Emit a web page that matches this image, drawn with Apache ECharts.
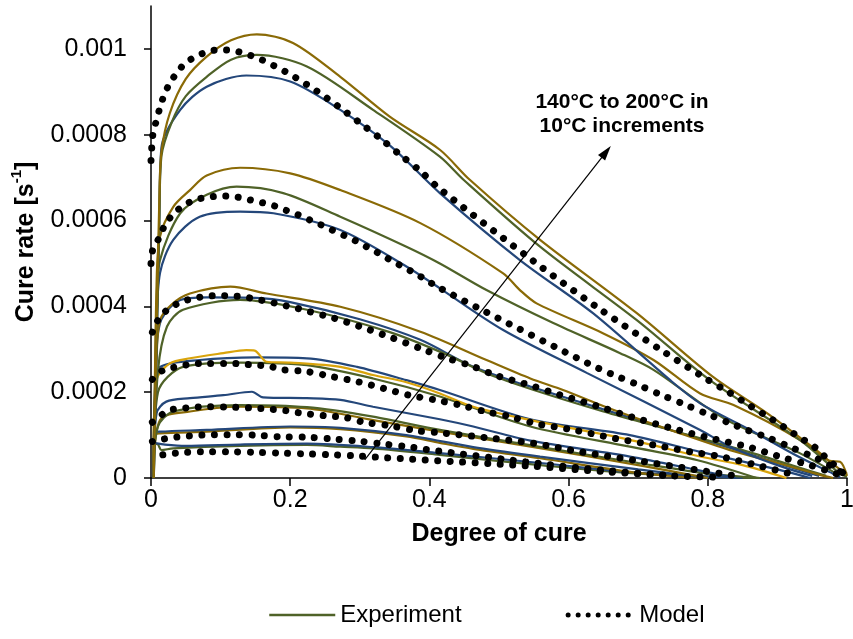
<!DOCTYPE html>
<html>
<head>
<meta charset="utf-8">
<title>Cure rate vs degree of cure</title>
<script src="https://cdn.jsdelivr.net/npm/echarts@6/dist/echarts.min.js"></script>
<style>
  html, body { margin: 0; padding: 0; background: #fff; }
  #chart { width: 853px; height: 639px; }
</style>
</head>
<body>
<div id="chart"></div>
<script>
// Cure rate values are stored in units of 1e-4 s^-1: [degree of cure, rate]
const RATE_UNIT = 1e-4;

// Axis ticks
const xTicks = [0, 0.2, 0.4, 0.6, 0.8, 1];
const yTicks = [0, 0.0002, 0.0004, 0.0006, 0.0008, 0.001];

// 200 °C
const exp200Gold = [[0.004,0],[0.008,3.5],[0.012,6.5],[0.015,7.6],[0.027,8.5],[0.05,9.3],[0.08,9.82],[0.115,10.2],[0.152,10.34],[0.204,10.14],[0.272,9.35],[0.343,8.42],[0.415,7.65],[0.458,6.95],[0.559,5.55],[0.698,3.84],[0.807,2.36],[0.885,1.51],[0.96,0.6],[0.975,0.4],[0.99,0.38],[1.0,0.05]];
const exp200Green = [[0.004,0],[0.008,3],[0.012,6],[0.015,7.5],[0.03,8.3],[0.05,8.9],[0.08,9.35],[0.115,9.75],[0.152,9.86],[0.224,9.59],[0.319,8.58],[0.415,7.49],[0.449,6.95],[0.559,5.39],[0.698,3.68],[0.803,2.28],[0.932,0.89],[0.99,0.1],[1.0,0.03]];
const exp200Blue = [[0.004,0],[0.008,3],[0.012,6],[0.015,7.7],[0.042,8.58],[0.08,9.12],[0.137,9.38],[0.2,9.24],[0.272,8.58],[0.343,7.75],[0.415,6.64],[0.53,5.08],[0.635,3.84],[0.746,2.28],[0.789,1.74],[0.861,1.12],[0.93,0.5],[0.98,0.1],[0.99,0.02]];
const model200 = [[0,7.4],[0.003,8.05],[0.008,8.34],[0.013,8.64],[0.019,8.93],[0.027,9.2],[0.038,9.46],[0.05,9.68],[0.067,9.84],[0.084,9.95],[0.102,9.98],[0.121,9.95],[0.139,9.87],[0.157,9.76],[0.174,9.63],[0.191,9.49],[0.207,9.34],[0.238,9.02],[0.269,8.66],[0.299,8.29],[0.329,7.92],[0.358,7.53],[0.388,7.14],[0.414,6.75],[0.549,5.06],[0.64,3.99],[0.734,2.97],[0.797,2.32],[0.829,2.01],[0.861,1.68],[0.892,1.37],[0.924,1.03],[0.956,0.69],[0.973,0.42],[0.985,0.26],[1.0,0.03]];

// 190 °C
const exp190Gold = [[0.004,0],[0.008,4.5],[0.013,5.63],[0.032,6.32],[0.056,6.71],[0.08,7.05],[0.128,7.23],[0.2,7.1],[0.272,6.71],[0.387,5.94],[0.506,4.77],[0.53,4.38],[0.554,4.07],[0.65,3.37],[0.722,2.75],[0.789,1.97],[0.837,1.7],[0.932,0.89],[0.99,0.2],[1.0,0.1]];
const exp190Green = [[0.004,0],[0.008,4],[0.013,5.08],[0.042,6.17],[0.08,6.6],[0.123,6.79],[0.19,6.64],[0.272,6.09],[0.367,5.39],[0.415,5.0],[0.482,4.38],[0.578,3.61],[0.674,2.91],[0.722,2.52],[0.789,1.75],[0.832,1.31],[0.932,0.58],[0.99,0.05]];
const exp190Blue = [[0.004,0],[0.008,3.5],[0.013,4.78],[0.032,5.55],[0.07,6.09],[0.128,6.21],[0.176,6.17],[0.272,5.78],[0.367,4.93],[0.415,4.42],[0.506,3.45],[0.626,2.45],[0.789,1.12],[0.832,0.73],[0.9,0.3],[0.95,0.05]];
const model190 = [[0,5.0],[0.003,5.35],[0.013,5.63],[0.02,5.9],[0.032,6.15],[0.046,6.34],[0.063,6.48],[0.081,6.54],[0.1,6.57],[0.119,6.56],[0.137,6.5],[0.156,6.43],[0.174,6.36],[0.192,6.25],[0.209,6.15],[0.226,6.03],[0.243,5.91],[0.26,5.78],[0.279,5.64],[0.296,5.51],[0.312,5.37],[0.329,5.22],[0.345,5.07],[0.361,4.93],[0.377,4.79],[0.394,4.63],[0.409,4.48],[0.475,3.92],[0.628,2.67],[0.662,2.42],[0.697,2.19],[0.731,1.95],[0.766,1.72],[0.801,1.48],[0.836,1.25],[0.856,1.12],[0.888,0.93],[0.923,0.69],[0.956,0.46],[0.98,0.25],[1.0,0.05]];

// 180 °C
const exp180Gold = [[0.003,0],[0.008,2.8],[0.013,3.68],[0.03,4.05],[0.056,4.3],[0.114,4.46],[0.166,4.3],[0.272,3.99],[0.387,3.41],[0.482,2.75],[0.545,2.32],[0.592,2.05],[0.664,1.59],[0.76,1.04],[0.832,0.65],[0.9,0.35],[0.96,0.08],[0.98,0]];
const exp180Green = [[0.003,0],[0.01,2.5],[0.023,3.53],[0.046,3.92],[0.128,4.15],[0.224,3.92],[0.343,3.4],[0.42,2.91],[0.482,2.44],[0.55,2.05],[0.65,1.55],[0.75,1.1],[0.85,0.65],[0.93,0.25],[0.97,0.05]];
const exp180Blue = [[0.003,0],[0.008,3.0],[0.015,3.7],[0.042,4.15],[0.08,4.21],[0.15,4.2],[0.2,4.1],[0.3,3.7],[0.387,3.22],[0.458,2.63],[0.516,2.28],[0.545,2.13],[0.65,1.6],[0.75,1.1],[0.832,0.7],[0.9,0.35],[0.96,0.05]];
const model180 = [[0.002,3.4],[0.013,3.76],[0.027,3.96],[0.044,4.11],[0.063,4.19],[0.081,4.24],[0.1,4.25],[0.119,4.24],[0.137,4.21],[0.156,4.15],[0.174,4.09],[0.192,4.02],[0.209,3.96],[0.227,3.88],[0.262,3.73],[0.3,3.53],[0.344,3.28],[0.387,3.02],[0.424,2.8],[0.461,2.61],[0.494,2.4],[0.549,2.14],[0.585,1.95],[0.64,1.68],[0.693,1.41],[0.748,1.16],[0.803,0.93],[0.857,0.73],[0.911,0.46],[0.947,0.3],[0.975,0.15],[1.0,0.02]];

// 170 °C
const exp170Yellow = [[0.003,0],[0.008,2.28],[0.027,2.67],[0.056,2.79],[0.104,2.91],[0.137,2.98],[0.149,2.97],[0.166,2.71],[0.2,2.69],[0.272,2.59],[0.319,2.4],[0.367,2.23],[0.415,1.97],[0.463,1.66],[0.545,1.35],[0.688,0.89],[0.789,0.5],[0.85,0.3],[0.913,0]];
const exp170Blue = [[0.003,0],[0.008,2.2],[0.013,2.59],[0.07,2.75],[0.152,2.81],[0.224,2.79],[0.296,2.59],[0.367,2.28],[0.415,2.05],[0.545,1.37],[0.688,1.0],[0.789,0.61],[0.9,0.2],[0.947,0]];
const exp170Green = [[0.003,0],[0.01,2.0],[0.046,2.59],[0.128,2.69],[0.224,2.63],[0.319,2.32],[0.415,1.9],[0.545,1.2],[0.688,0.73],[0.784,0.42],[0.87,0]];
const model170 = [[0.002,2.3],[0.018,2.52],[0.037,2.59],[0.056,2.65],[0.075,2.67],[0.112,2.67],[0.13,2.66],[0.149,2.63],[0.169,2.61],[0.187,2.53],[0.224,2.48],[0.261,2.36],[0.298,2.24],[0.334,2.09],[0.371,1.93],[0.408,1.82],[0.444,1.7],[0.48,1.55],[0.516,1.43],[0.552,1.27],[0.607,1.12],[0.664,0.93],[0.722,0.77],[0.775,0.61],[0.818,0.5],[0.87,0.3],[0.93,0.05]];

// 160 °C
const exp160Blue = [[0.003,0],[0.008,1.51],[0.022,1.78],[0.056,1.86],[0.104,1.93],[0.145,2.01],[0.161,1.88],[0.224,1.86],[0.272,1.82],[0.319,1.66],[0.415,1.37],[0.463,1.2],[0.545,0.87],[0.688,0.5],[0.784,0.19],[0.84,0]];
const exp160Green = [[0.003,0],[0.01,1.2],[0.032,1.55],[0.128,1.7],[0.224,1.65],[0.319,1.43],[0.415,1.12],[0.55,0.75],[0.7,0.35],[0.8,0.1],[0.875,0]];
const exp160Gold = [[0.003,0],[0.013,1.35],[0.056,1.55],[0.128,1.66],[0.224,1.62],[0.319,1.35],[0.415,1.08],[0.55,0.72],[0.7,0.3],[0.8,0]];
const model160 = [[0.002,1.3],[0.025,1.57],[0.044,1.62],[0.063,1.65],[0.081,1.66],[0.119,1.65],[0.157,1.62],[0.175,1.6],[0.194,1.57],[0.213,1.52],[0.25,1.45],[0.279,1.41],[0.306,1.3],[0.343,1.22],[0.382,1.1],[0.418,1.05],[0.492,0.92],[0.549,0.81],[0.62,0.6],[0.7,0.4],[0.78,0.2],[0.84,0.05]];

// 150 °C
const exp150Gold = [[0.003,0],[0.005,1.0],[0.013,1.04],[0.08,1.08],[0.2,1.18],[0.272,1.14],[0.367,0.97],[0.415,0.82],[0.463,0.68],[0.559,0.46],[0.7,0.12],[0.79,0]];
const exp150Blue = [[0.003,0],[0.005,1.05],[0.013,1.08],[0.08,1.12],[0.2,1.2],[0.272,1.17],[0.367,1.0],[0.463,0.72],[0.559,0.5],[0.7,0.2],[0.8,0]];
const model150 = [[0.002,0.85],[0.015,0.9],[0.035,0.95],[0.054,0.98],[0.073,1.0],[0.112,1.01],[0.149,1.0],[0.186,0.96],[0.224,0.95],[0.261,0.91],[0.298,0.86],[0.335,0.79],[0.373,0.72],[0.393,0.67],[0.557,0.34],[0.65,0.18],[0.75,0.05]];

// 140 °C
const exp140Green = [[0.003,0],[0.004,0.8],[0.01,0.78],[0.015,0.65],[0.032,0.69],[0.128,0.75],[0.224,0.77],[0.272,0.73],[0.319,0.69],[0.415,0.54],[0.559,0.3],[0.7,0.1],[0.875,0]];
const exp140Blue = [[0.003,0],[0.004,0.82],[0.02,0.78],[0.05,0.75],[0.128,0.78],[0.224,0.8],[0.319,0.72],[0.415,0.58],[0.559,0.35],[0.7,0.12],[0.85,0]];
const model140 = [[0.017,0.54],[0.036,0.58],[0.074,0.61],[0.112,0.61],[0.149,0.6],[0.188,0.58],[0.226,0.56],[0.263,0.54],[0.3,0.51],[0.339,0.47],[0.375,0.44],[0.394,0.42],[0.542,0.28],[0.65,0.15],[0.75,0.05],[0.81,0.02]];

// Temperature arrow, tail and head as [degree of cure, rate]
const arrowFrom = [0.307, 0.42];
const arrowTo = [0.654, 7.6];
const annotationText = '140°C to 200°C in\n10°C increments';

const GOLD = '#8a6a06';
const GREEN = '#4f6228';
const BLUE = '#24477a';
const YELLOW = '#d9a40c';
const FONT = 'Liberation Sans';

const toPoints = arr => arr.map(p => [p[0], p[1] * RATE_UNIT]);

const expCurves = [
  [exp140Green, GREEN], [exp140Blue, BLUE],
  [exp150Gold, GOLD], [exp150Blue, BLUE],
  [exp160Gold, GOLD], [exp160Green, GREEN], [exp160Blue, BLUE],
  [exp170Green, GREEN], [exp170Blue, BLUE], [exp170Yellow, YELLOW],
  [exp180Blue, BLUE], [exp180Green, GREEN], [exp180Gold, GOLD],
  [exp190Blue, BLUE], [exp190Green, GREEN], [exp190Gold, GOLD],
  [exp200Blue, BLUE], [exp200Green, GREEN], [exp200Gold, GOLD]
];
const modelCurves = [model140, model150, model160, model170, model180, model190, model200];

const series = [];
expCurves.forEach(([data, color]) => {
  series.push({
    type: 'line', name: 'Experiment', data: toPoints(data),
    symbol: 'none', smooth: 0.3, silent: true, z: 2,
    lineStyle: { color: color, width: 2.2 }
  });
});
modelCurves.forEach(data => {
  series.push({
    type: 'line', name: 'Model', data: toPoints(data),
    symbol: 'none', smooth: 0.3, silent: true, z: 3,
    itemStyle: { color: '#000' },
    lineStyle: { color: '#000', width: 7, type: [0.01, 12.5], cap: 'round' }
  });
});
series.push({
  type: 'line', name: 'arrow', data: [], silent: true, z: 4,
  markLine: {
    silent: true, animation: false,
    symbol: ['none', 'triangle'], symbolSize: [9, 15],
    lineStyle: { color: '#000', width: 1.2, type: 'solid' },
    label: { show: false },
    data: [[{ coord: toPoints([arrowFrom])[0] }, { coord: toPoints([arrowTo])[0] }]]
  }
});

const chart = echarts.init(document.getElementById('chart'), null, { renderer: 'canvas' });
chart.setOption({
  animation: false,
  backgroundColor: '#fff',
  textStyle: { fontFamily: FONT },
  grid: { left: 151, right: 6, top: 6, bottom: 161, containLabel: false, outerBoundsMode: 'none' },
  xAxis: {
    type: 'value', min: 0, max: 1, interval: 0.2,
    name: 'Degree of cure', nameLocation: 'middle', nameGap: 44,
    nameTextStyle: { fontSize: 25, fontWeight: 'bold', color: '#000', fontFamily: FONT },
    axisLine: { lineStyle: { color: '#000', width: 1.5 } },
    axisTick: { show: true, inside: false, length: 8, lineStyle: { color: '#000', width: 1.5 }, customValues: xTicks },
    axisLabel: { fontSize: 25, color: '#000', margin: 10, fontFamily: FONT, customValues: xTicks, formatter: v => String(v) },
    splitLine: { show: false }
  },
  yAxis: {
    type: 'value', min: 0, max: 0.0011, interval: 0.0002,
    name: '{b|Cure rate [s}{sup|-1}{b|]}', nameLocation: 'middle', nameGap: 112, nameRotate: 90,
    nameTextStyle: {
      color: '#000', fontFamily: FONT,
      rich: {
        b: { fontSize: 25, fontWeight: 'bold', color: '#000', fontFamily: FONT, verticalAlign: 'bottom', lineHeight: 30 },
        sup: { fontSize: 15, fontWeight: 'bold', color: '#000', fontFamily: FONT, verticalAlign: 'top', lineHeight: 30 }
      }
    },
    axisLine: { show: true, lineStyle: { color: '#000', width: 1.5 } },
    axisTick: { show: true, inside: false, length: 7, lineStyle: { color: '#000', width: 1.5 }, customValues: yTicks },
    axisLabel: { fontSize: 25, color: '#000', margin: 24, fontFamily: FONT, customValues: yTicks, formatter: v => String(v) },
    splitLine: { show: false }
  },
  legend: {
    left: 263, top: 598, itemWidth: 66, itemHeight: 14, itemGap: 104,
    textStyle: { fontSize: 24, color: '#000', fontFamily: FONT },
    selectedMode: false,
    data: [
      { name: 'Experiment', itemStyle: { color: GREEN, opacity: 0 }, lineStyle: { color: GREEN, width: 2.5, type: 'solid', opacity: 1 } },
      { name: 'Model', itemStyle: { color: '#000', opacity: 0 }, lineStyle: { color: '#000', width: 5, type: [0.01, 10], cap: 'round', opacity: 1 } }
    ]
  },
  graphic: [{
    type: 'text', x: 622, y: 90, silent: true,
    style: { text: annotationText, fill: '#000', font: 'bold 21px "Liberation Sans"', align: 'center', verticalAlign: 'top', lineHeight: 24 }
  }],
  series: series
});
</script>
</body>
</html>
